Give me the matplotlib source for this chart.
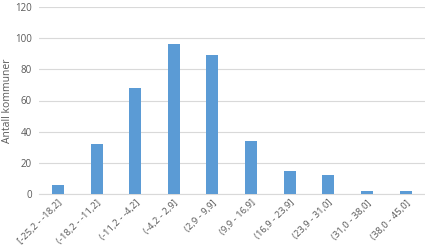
import matplotlib
matplotlib.use("Agg")
import matplotlib.pyplot as plt

categories = ["[-25,2 - -18,2]", "(-18,2 - -11,2]", "(-11,2 - -4,2]", "(-4,2 - 2,9]",
              "(2,9 - 9,9]", "(9,9 - 16,9]", "(16,9 - 23,9]", "(23,9 - 31,0]",
              "(31,0 - 38,0]", "(38,0 - 45,0]"]
values = [6, 32, 68, 96, 89, 34, 15, 12, 2, 2]
yticks = [0, 20, 40, 60, 80, 100, 120]

plt.rcParams['font.family'] = ['Open Sans', 'DejaVu Sans']
fig = plt.figure(figsize=(4.25, 2.46), dpi=100)
ax = fig.add_axes([38.6/425, 1-194/246, (425-38.6)/425, 187/246])
x = list(range(len(categories)))
ax.bar(x, values, width=0.31, color='#5b9bd5', zorder=3)
ax.set_xlim(-0.5, len(categories)-0.5)
ax.set_ylim(0, 120)
ax.set_yticks(yticks)
ax.set_yticklabels([str(v) for v in yticks], fontsize=7, color='#595959')
ax.set_xticks(x)
ax.set_xticklabels(categories, rotation=45, ha='right', rotation_mode='anchor',
                   fontsize=6.8, color='#595959')
ax.grid(axis='y', color='#d9d9d9', linewidth=0.8, zorder=0)
for s in ['top', 'right', 'left']:
    ax.spines[s].set_visible(False)
ax.spines['bottom'].set_color('#d9d9d9')
ax.tick_params(axis='both', length=0, pad=5)
ax.tick_params(axis='x', pad=3)
fig.text(7.5/425, 1-101/246, 'Antall kommuner', rotation=90, ha='center', va='center',
         fontsize=7.5, color='#595959')
fig.savefig('out.png', dpi=100)
